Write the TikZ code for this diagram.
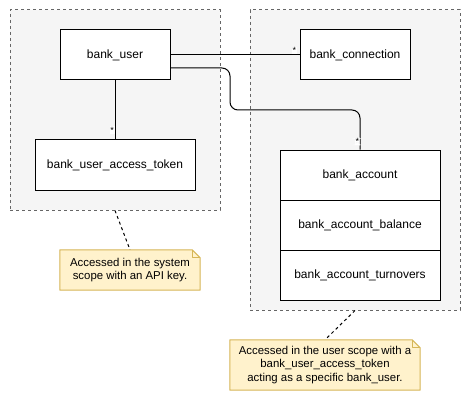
\documentclass[tikz,border=0pt]{standalone}
\usepackage{fontspec}
\setmainfont{Liberation Sans}
\definecolor{grpfill}{HTML}{F5F5F5}
\definecolor{grpline}{HTML}{666666}
\definecolor{notefill}{HTML}{FFF2CC}
\definecolor{noteline}{HTML}{D6B656}
\newcommand{\foldnote}[1]{
    \filldraw[notefill, draw=noteline, line width=1pt, line join=round]
        (#1.south west) -- (#1.north west) -- ([xshift=-8pt]#1.north east)
        -- ([yshift=-8pt]#1.north east) -- (#1.south east) -- cycle;
    \draw[noteline, line width=1pt, line join=round]
        ([xshift=-8pt]#1.north east) -- ([xshift=-8pt,yshift=-8pt]#1.north east)
        -- ([yshift=-8pt]#1.north east);
}
\tikzset{
    grp/.style={draw=grpline, fill=grpfill, line width=1pt, dash pattern=on 3pt off 3pt,
        minimum width=210pt, inner sep=0pt},
    entity/.style={draw, fill=white, line width=1pt, minimum height=50pt, inner sep=0pt,
        font=\fontsize{12}{14}\selectfont},
    notebox/.style={minimum height=#1, inner sep=0pt},
    notetext/.style={align=center, font=\fontsize{11.4}{13.3}\selectfont},
    link/.style={line width=1pt},
    hint/.style={line width=1pt, dash pattern=on 3pt off 3pt},
    mult/.style={fill=white, inner sep=0.5pt, font=\fontsize{9}{9}\selectfont}
}

\begin{document}
\begin{tikzpicture}[x=1pt, y=-1pt]
    \useasboundingbox (0,0) rectangle (471,401);

    % Scopes
    \node[grp, minimum height=200pt] (sysgrp) at (115,110) {};
    \node[grp, minimum height=300pt] (usrgrp) at (355,160) {};

    % Tables
    \node[entity, minimum width=110pt] (buser) at (115,55) {bank\_user};
    \node[entity, minimum width=160pt] (btoken) at (115,165) {bank\_user\_access\_token};
    \node[entity, minimum width=110pt] (bconn) at (355,55) {bank\_connection};
    \node[entity, minimum width=160pt] (bacc) at (360,175) {bank\_account};
    \node[entity, minimum width=160pt] (bbal) at (360,225) {bank\_account\_balance};
    \node[entity, minimum width=160pt] (bturn) at (360,275) {bank\_account\_turnovers};

    % Relations
    \draw[link] (buser.south) -- (btoken.north) node[mult, pos=0.84, left] {*};
    \draw[link] (buser.east) -- (bconn.west) node[mult, pos=0.96, above] {*};
    \draw[link, rounded corners=8pt] ([yshift=-13pt]buser.east) -- (230,68) -- (230,110)
        -- (360,110) -- (bacc.north) node[mult, pos=0.8, left] {*};

    % Notes
    \node[notebox=40pt, minimum width=140pt] (sysnote) at (130,270) {};
    \foldnote{sysnote}
    \node[notetext] at (sysnote) {Accessed in the system\\scope with an API key.};
    \node[notebox=50pt, minimum width=190pt] (usrnote) at (325,365) {};
    \foldnote{usrnote}
    \node[notetext] at (usrnote) {Accessed in the user scope with a\\bank\_user\_access\_token\\acting as a specific bank\_user.};
    \draw[hint] (sysgrp.south) -- (sysnote.north);
    \draw[hint] (usrgrp.south) -- (usrnote.north);
\end{tikzpicture}
\end{document}
